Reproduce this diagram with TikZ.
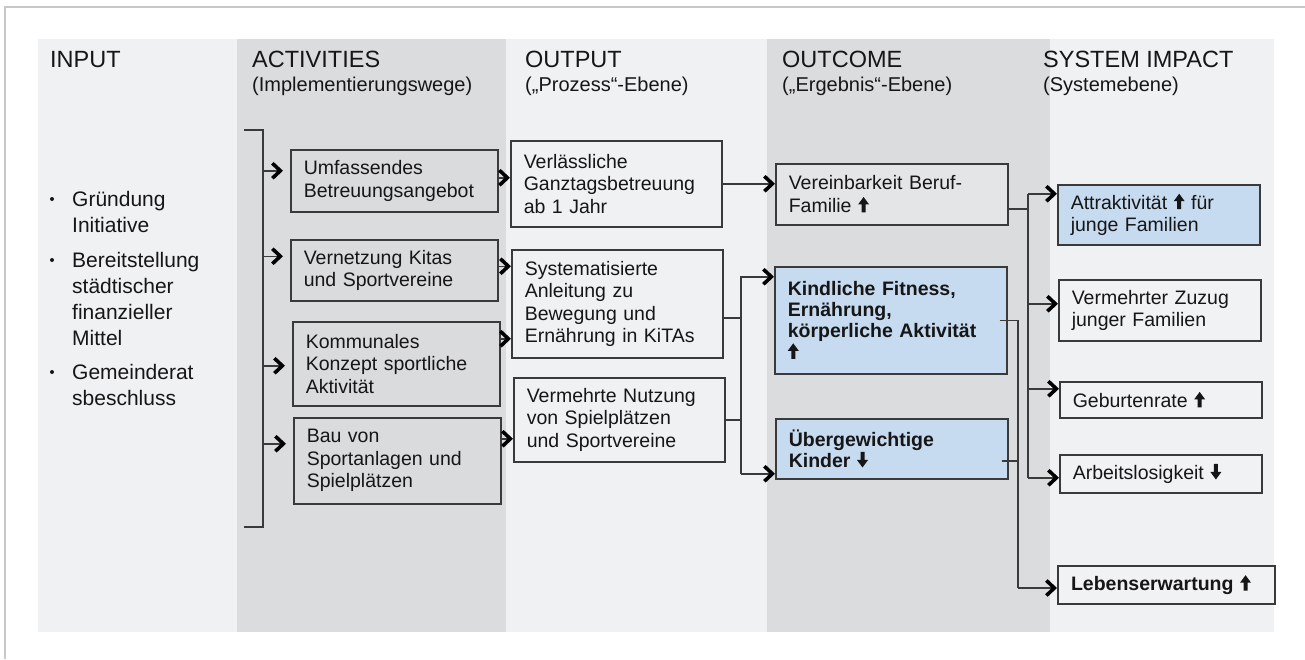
\documentclass[tikz,border=0pt]{standalone}
\usepackage{fontspec}
\setmainfont{Liberation Sans}
\usetikzlibrary{arrows.meta, positioning, calc}

\definecolor{bandlight}{RGB}{239,241,243}
\definecolor{banddark}{RGB}{219,220,222}
\definecolor{actfill}{RGB}{218,219,221}
\definecolor{grayfill}{RGB}{228,229,231}
\definecolor{bluefill}{RGB}{198,218,240}
\definecolor{whitefill}{RGB}{241,242,244}
\definecolor{edgecol}{RGB}{58,58,58}
\definecolor{txtcol}{RGB}{22,22,22}
\definecolor{framecol}{RGB}{200,200,200}

% small bold up / down arrows used inside the texts
\newcommand{\upar}{\tikz[x=1pt,y=1pt,baseline=0pt]\fill[txtcol] (3.5,0) -- (7.5,0) -- (7.5,8) -- (11,8) -- (5.5,15.5) -- (0,8) -- (3.5,8) -- cycle;}
\newcommand{\downar}{\tikz[x=1pt,y=1pt,baseline=0pt]\fill[txtcol] (3.5,15.5) -- (7.5,15.5) -- (7.5,7.5) -- (11,7.5) -- (5.5,0) -- (0,7.5) -- (3.5,7.5) -- cycle;}

\begin{document}
\begin{tikzpicture}[x=1pt, y=-1pt,
    conn/.style={draw=edgecol, line width=1.5pt},
    arr/.style={conn, -{Straight Barb[length=8pt, width=15pt, line width=3.6pt, color=black]}},
    boxbase/.style={draw=edgecol, line width=1.5pt, inner xsep=13pt, inner ysep=2pt, align=left,
      anchor=north west, text=txtcol, font=\fontsize{19.5}{22.5}\selectfont},
    bold/.style={font=\fontsize{19.5}{21}\selectfont\bfseries},
    actbox/.style={boxbase, fill=actfill, text width=181pt},
    outbox/.style={boxbase, fill=bandlight, text width=185pt},
    ocbox/.style={boxbase, text width=206pt},
    sibox/.style={boxbase, fill=whitefill, text width=176pt},
    head/.style={anchor=base west, inner sep=0pt, text=txtcol, font=\fontsize{23.5}{26}\selectfont},
    subhead/.style={anchor=base west, inner sep=0pt, text=txtcol, font=\fontsize{20}{24}\selectfont},
    inlist/.style={anchor=north west, inner sep=0pt, align=left, text=txtcol, font=\fontsize{21}{26}\selectfont},
    dot/.style={circle, fill=txtcol, inner sep=0pt, minimum size=4pt}
  ]
    \useasboundingbox (0,0) rectangle (1305,659);

    % Frame
    \draw[framecol, line width=1.5pt] (5,659) -- (5,7) -- (1305,7);

    % Column bands
    \fill[bandlight] (38,39) rectangle (237,632);
    \fill[banddark] (237,39) rectangle (506,632);
    \fill[bandlight] (506,39) rectangle (767,632);
    \fill[banddark] (767,39) rectangle (1050,632);
    \fill[bandlight] (1050,39) rectangle (1274,632);

    % Headers
    \node[head] (hin) at (50,67) {INPUT};
    \node[head] (hact) at (252,67) {ACTIVITIES};
    \node[subhead] (sact) at (252,91) {(Implementierungswege)};
    \node[head] (hout) at (525,67) {OUTPUT};
    \node[subhead] (sout) at (525,91) {(„Prozess“-Ebene)};
    \node[head] (hoc) at (782,67) {OUTCOME};
    \node[subhead] (soc) at (782,91) {(„Ergebnis“-Ebene)};
    \node[head] (hsi) at (1043,67) {SYSTEM IMPACT};
    \node[subhead] (ssi) at (1043,91) {(Systemebene)};

    % Input list
    \node[dot] (d1) at (52,199) {};
    \node[inlist] (in1) at (72,191) {Gründung\\Initiative};
    \node[dot] (d2) at (52,260) {};
    \node[inlist] (in2) at (72,252) {Bereitstellung\\städtischer\\finanzieller\\Mittel};
    \node[dot] (d3) at (52,372) {};
    \node[inlist] (in3) at (72,364) {Gemeinderat\\sbeschluss};

    % Activities
    \node[actbox, minimum height=62pt] (a1) at (290,149) {Umfassendes\\Betreuungsangebot};
    \node[actbox, minimum height=61pt] (a2) at (290,239) {Vernetzung Kitas\\und Sportvereine};
    \node[actbox, minimum height=84pt] (a3) at (292,321) {Kommunales\\Konzept sportliche\\Aktivität};
    \node[actbox, minimum height=86pt] (a4) at (293,417) {Bau von\\Sportanlagen und\\Spielplätzen};

    % Output
    \node[outbox, minimum height=86pt] (o1) at (510,140) {Verlässliche\\Ganztagsbetreuung\\ab 1 Jahr};
    \node[outbox, minimum height=108pt] (o2) at (511,249) {Systematisierte\\Anleitung zu\\Bewegung und\\Ernährung in KiTAs};
    \node[outbox, minimum height=84pt] (o3) at (513,377) {Vermehrte Nutzung\\von Spielplätzen\\und Sportvereine};

    % Outcome
    \node[ocbox, fill=grayfill, minimum height=61pt] (oc1) at (775,163) {Vereinbarkeit Beruf-\\Familie~\upar};
    \node[ocbox, bold, fill=bluefill, minimum height=107pt] (oc2) at (774,266) {Kindliche Fitness,\\Ernährung,\\körperliche Aktivität\\\upar};
    \node[ocbox, bold, fill=bluefill, minimum height=60pt] (oc3) at (775,418) {Übergewichtige\\Kinder~\downar};

    % System impact
    \node[sibox, fill=bluefill, minimum height=60pt] (attr) at (1057,184) {Attraktivität~\upar~für\\junge Familien};
    \node[sibox, minimum height=61pt] (zuzug) at (1058,279) {Vermehrter Zuzug\\junger Familien};
    \node[sibox, minimum height=36pt] (geburt) at (1059,381) {Geburtenrate~\upar};
    \node[sibox, minimum height=38pt] (arbeit) at (1059,454) {Arbeitslosigkeit~\downar};
    \node[sibox, bold, line width=2pt, text width=191pt, minimum height=38pt] (leben) at (1057,565) {Lebenserwartung~\upar};

    % Bracket from the input column
    \coordinate (brtl) at (244,130);
    \coordinate (brtop) at (263,130);
    \coordinate (brbot) at (263,527);
    \coordinate (brbl) at (244,527);
    \draw[conn] (brtl) -- (brtop) -- (brbot) -- (brbl);
    \foreach \n/\s in {a1/10, a2/14, a3/-2, a4/17}
      \draw[arr, shorten >=7pt] ([yshift=\s pt]\n.west -| brtop) -- ([yshift=\s pt]\n.west);

    % Activities -> output
    \draw[arr] ([yshift=3pt]a1.east) -- ([yshift=3pt]a1.east -| o1.west);
    \draw[arr] ([yshift=4pt]a2.east) -- ([yshift=4pt]a2.east -| o2.west);
    \draw[arr] ([yshift=25pt]a3.east) -- ([yshift=25pt]a3.east -| o2.west);
    \draw[arr] ([yshift=22pt]a4.east) -- ([yshift=22pt]a4.east -| o3.west);

    % Output -> outcome
    \draw[arr] (o1.east) -- (o1.east -| oc1.west);
    \coordinate (obus) at (741,300);
    \draw[conn] ([yshift=-14pt]o2.east) -- ([yshift=-14pt]o2.east -| obus);
    \draw[conn] (o3.east) -- (o3.east -| obus);
    \draw[arr] ([yshift=-25pt]oc3.west -| obus) -- ([yshift=43.5pt]oc2.west -| obus) -- ([yshift=43.5pt]oc2.west);
    \draw[arr] ([yshift=-25pt]oc3.west -| obus) -- ([yshift=-25pt]oc3.west);

    % Outcome -> system impact
    \coordinate (sbus1) at (1028,300);
    \draw[conn] ([yshift=-14.5pt]oc1.east) -- ([yshift=-14.5pt]oc1.east -| sbus1);
    \draw[conn] ([yshift=21pt]attr.west -| sbus1) -- ([yshift=-4pt]arbeit.west -| sbus1);
    \foreach \n/\s in {attr/21, zuzug/6.5, geburt/11, arbeit/-4}
      \draw[arr] ([yshift=\s pt]\n.west -| sbus1) -- ([yshift=\s pt]\n.west);

    \coordinate (sbus2) at (1018,400);
    \draw[conn] ([xshift=-8pt]oc2.east) -- (oc2.east -| sbus2) -- ([yshift=-3pt]leben.west -| sbus2);
    \draw[conn] ([xshift=-7pt,yshift=-12pt]oc3.east) -- ([yshift=-12pt]oc3.east -| sbus2);
    \draw[arr] ([yshift=-3pt]leben.west -| sbus2) -- ([yshift=-3pt]leben.west);

\end{tikzpicture}
\end{document}
